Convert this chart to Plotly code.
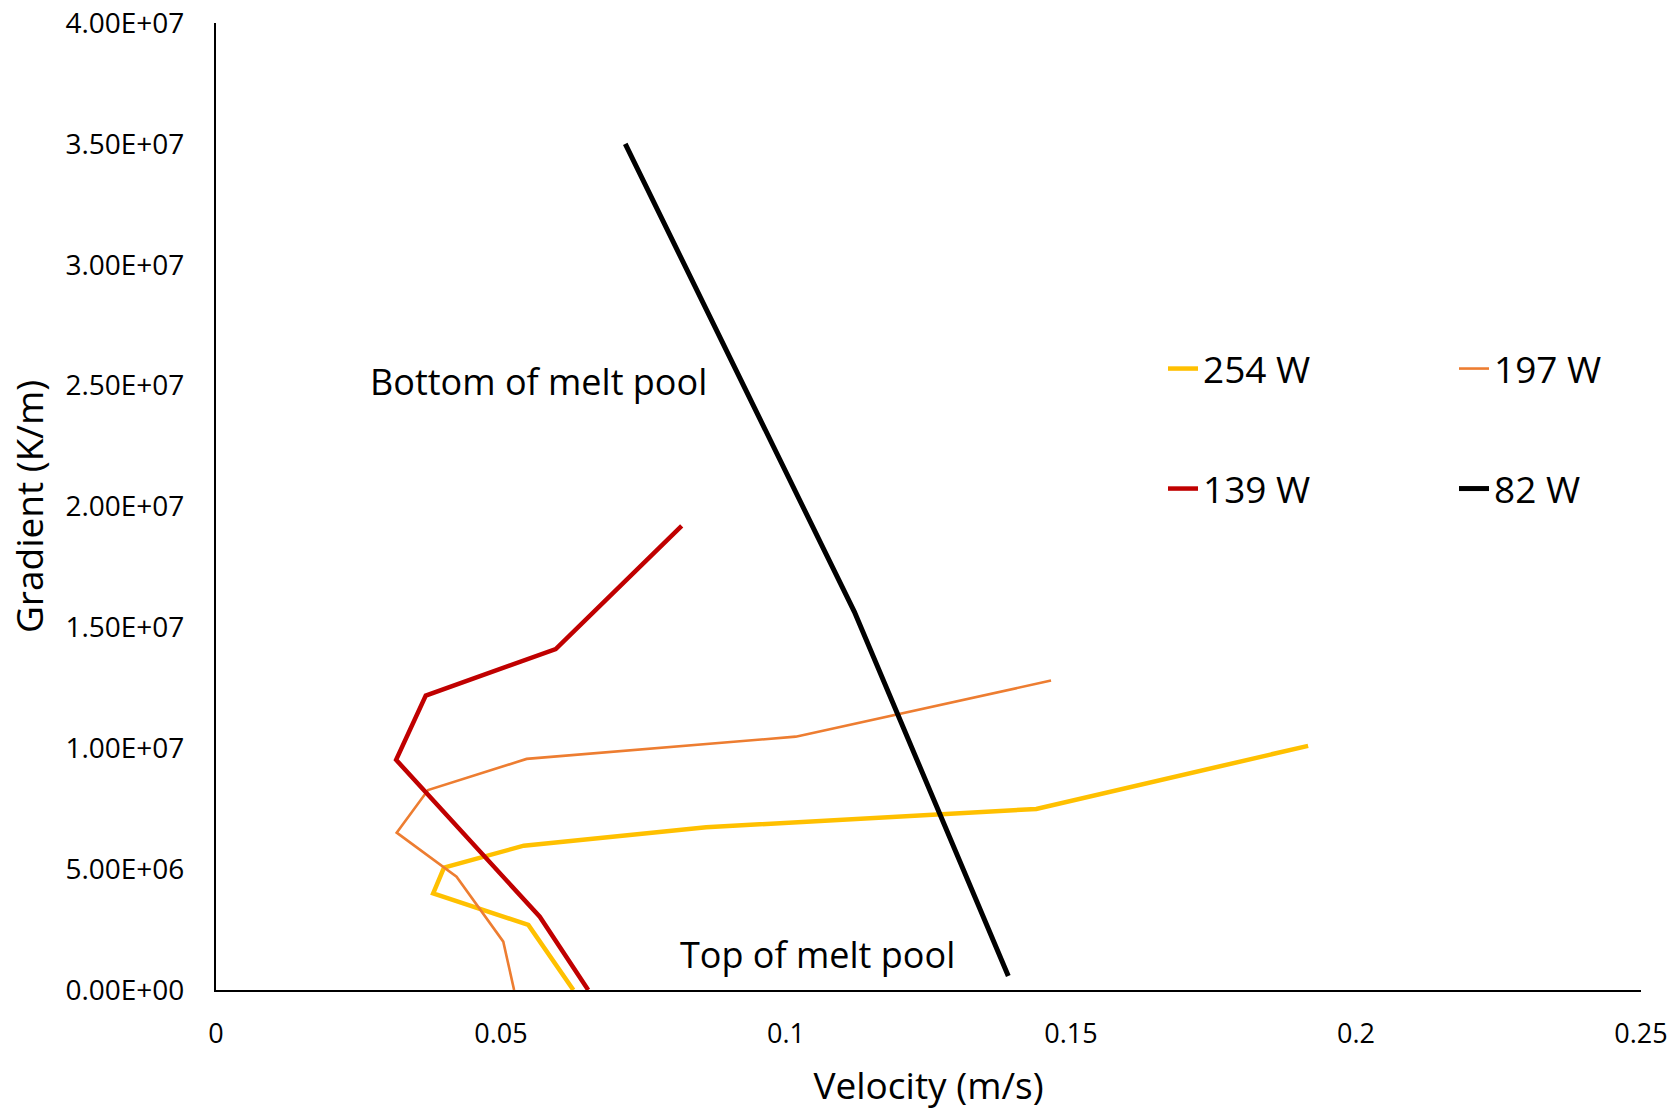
import plotly.graph_objects as go

# ---- data ----
v254 = [0.0627, 0.0548, 0.0381, 0.0400, 0.0540, 0.0860, 0.1439, 0.1916]
g254 = [0.0, 2.69e6, 4.00e6, 5.06e6, 5.97e6, 6.73e6, 7.49e6, 1.01e7]

v197 = [0.0523, 0.0504, 0.0422, 0.0317, 0.0372, 0.0545, 0.1017, 0.1465]
g197 = [0.0, 2.00e6, 4.69e6, 6.51e6, 8.27e6, 9.56e6, 1.048e7, 1.280e7]

v139 = [0.0653, 0.0568, 0.0316, 0.0368, 0.0596, 0.0817]
g139 = [0.0, 3.03e6, 9.52e6, 1.218e7, 1.410e7, 1.920e7]

v82 = [0.1390, 0.1120, 0.0718]
g82 = [5.8e5, 1.564e7, 3.50e7]

y_tickvals = [0, 5e6, 1e7, 1.5e7, 2e7, 2.5e7, 3e7, 3.5e7, 4e7]
y_ticktext = ["0.00E+00", "5.00E+06", "1.00E+07", "1.50E+07", "2.00E+07",
              "2.50E+07", "3.00E+07", "3.50E+07", "4.00E+07"]
x_tickvals = [0, 0.05, 0.1, 0.15, 0.2, 0.25]
x_ticktext = ["0", "0.05", "0.1", "0.15", "0.2", "0.25"]

FONT = "Open Sans"

fig = go.Figure()
fig.add_trace(go.Scatter(x=v254, y=g254, mode="lines", name="254 W",
                         line=dict(color="#FFC000", width=4.5), legend="legend"))
fig.add_trace(go.Scatter(x=v197, y=g197, mode="lines", name="197 W",
                         line=dict(color="#ED7D31", width=2.6), legend="legend2"))
fig.add_trace(go.Scatter(x=v139, y=g139, mode="lines", name="139 W",
                         line=dict(color="#C00000", width=4.5), legend="legend3"))
fig.add_trace(go.Scatter(x=v82, y=g82, mode="lines", name="82 W",
                         line=dict(color="#000000", width=5), legend="legend4"))


def leg(x, y):
    return dict(orientation="h", xref="container", yref="container", x=x, y=y,
                xanchor="left", yanchor="middle",
                font=dict(family=FONT, size=37, color="#000000"),
                bgcolor="rgba(0,0,0,0)", borderwidth=0, itemwidth=30)


# legend rows / columns (container fractions)
col1, col2 = 1163 / 1678, 1454 / 1678
row1, row2 = 1 - 369 / 1110, 1 - 489 / 1110

fig.update_layout(
    width=1678, height=1110,
    margin=dict(l=216, r=37, t=23, b=120, autoexpand=False),
    paper_bgcolor="white", plot_bgcolor="white",
    showlegend=True,
    legend=leg(col1, row1),
    legend2=leg(col2, row1),
    legend3=leg(col1, row2),
    legend4=leg(col2, row2),
    font=dict(family=FONT, color="#000000"),
    xaxis=dict(range=[0, 0.25], tickvals=x_tickvals, ticktext=x_ticktext,
               showgrid=False, zeroline=False, showline=True,
               linecolor="#000000", linewidth=2, ticks="",
               tickfont=dict(family=FONT, size=27, color="#000000"),
               ticklabelstandoff=19,
               title=dict(text="Velocity (m/s)", standoff=24,
                          font=dict(family=FONT, size=37, color="#000000"))),
    yaxis=dict(range=[0, 4e7], tickvals=y_tickvals, ticktext=y_ticktext,
               showgrid=False, zeroline=False, showline=True,
               linecolor="#000000", linewidth=2, ticks="",
               tickfont=dict(family=FONT, size=28, color="#000000"),
               ticklabelstandoff=24,
               title=dict(text="Gradient (K/m)", standoff=10,
                          font=dict(family=FONT, size=37, color="#000000"))),
    annotations=[
        dict(x=0.0565, y=2.516e7, xref="x", yref="y", text="Bottom of melt pool",
             showarrow=False, font=dict(family=FONT, size=36, color="#000000")),
        dict(x=0.1056, y=1.46e6, xref="x", yref="y", text="Top of melt pool",
             showarrow=False, font=dict(family=FONT, size=36, color="#000000")),
    ],
)

fig.write_html("out.html")
